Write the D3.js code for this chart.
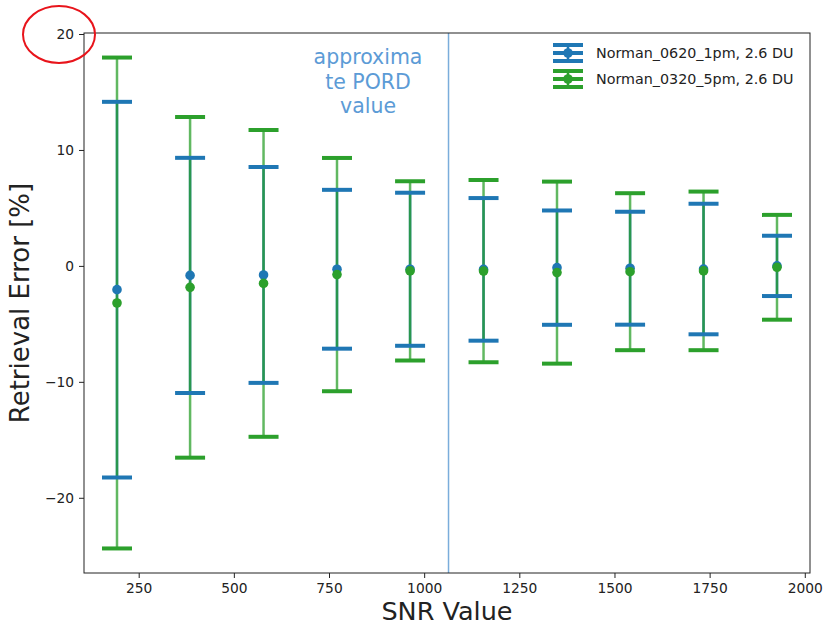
<!DOCTYPE html>
<html>
<head>
<meta charset="utf-8">
<script src="https://cdn.jsdelivr.net/npm/d3@7"></script>
<style>
  body { margin: 0; background: #fff; }
  svg { display: block; font-family: "DejaVu Sans", sans-serif; }
</style>
</head>
<body>
<div id="root"></div>
<script>
// values
const snrValues = [193, 385, 578, 771, 963, 1156, 1349, 1541, 1734, 1927];
const norman0620Mean = [-2.05, -0.82, -0.78, -0.29, -0.29, -0.3, -0.15, -0.2, -0.27, 0.0];
const norman0620Err = [16.2, 10.14, 9.31, 6.85, 6.6, 6.15, 4.93, 4.87, 5.63, 2.6];
const norman0320Mean = [-3.2, -1.85, -1.51, -0.75, -0.43, -0.45, -0.58, -0.5, -0.43, -0.12];
const norman0320Err = [21.17, 14.69, 13.23, 10.06, 7.73, 7.86, 7.85, 6.77, 6.84, 4.52];
const seriesNames = ['Norman_0620_1pm, 2.6 DU', 'Norman_0320_5pm, 2.6 DU'];
const xTicks = [250, 500, 750, 1000, 1250, 1500, 1750, 2000];
const yTicks = [-20, -10, 0, 10, 20];
const pordValue = 1064;
const pordLabel = ['approxima', 'te PORD', 'value'];

const width = 825;
const height = 626;
const plot = { left: 84, right: 810, top: 33, bottom: 573 };

const blue = '#1f77b4';
const green = '#2ca02c';

const series = [
  { name: seriesNames[0], color: blue, mean: norman0620Mean, err: norman0620Err, lineOpacity: 1 },
  { name: seriesNames[1], color: green, mean: norman0320Mean, err: norman0320Err, lineOpacity: 0.75 },
];

// matplotlib style 5% margins
const padded = (lo, hi) => {
  const m = (hi - lo) * 0.05;
  return [lo - m, hi + m];
};

const allLow = series.flatMap(s => s.mean.map((d, i) => d - s.err[i]));
const allHigh = series.flatMap(s => s.mean.map((d, i) => d + s.err[i]));

const xScale = d3.scaleLinear()
  .domain(padded(d3.min(snrValues), d3.max(snrValues)))
  .range([plot.left, plot.right]);

const yScale = d3.scaleLinear()
  .domain(padded(d3.min(allLow), d3.max(allHigh)))
  .range([plot.bottom, plot.top]);

const svg = d3.select('#root').append('svg')
  .attr('width', width)
  .attr('height', height);

// PORD line
svg.append('line')
  .attr('x1', xScale(pordValue)).attr('x2', xScale(pordValue))
  .attr('y1', plot.top).attr('y2', plot.bottom)
  .attr('stroke', '#7aaddb')
  .attr('stroke-width', 1.5);

svg.append('text')
  .attr('x', 368)
  .attr('y', 64)
  .attr('text-anchor', 'middle')
  .attr('fill', '#5c9bd6')
  .attr('font-size', '20.5px')
  .selectAll('tspan')
  .data(pordLabel)
  .enter()
  .append('tspan')
  .attr('x', 368)
  .attr('dy', (d, i) => i === 0 ? 0 : 24.5)
  .text(d => d);

const capHalf = 15;

// error lines first, then caps, then markers
series.forEach(s => {
  svg.append('g').selectAll('line')
    .data(snrValues)
    .enter()
    .append('line')
    .attr('x1', d => xScale(d)).attr('x2', d => xScale(d))
    .attr('y1', (d, i) => yScale(s.mean[i] + s.err[i]))
    .attr('y2', (d, i) => yScale(s.mean[i] - s.err[i]))
    .attr('stroke', s.color)
    .attr('stroke-opacity', s.lineOpacity)
    .attr('stroke-width', 2.5);
});

series.forEach(s => {
  const caps = svg.append('g');
  [1, -1].forEach(sign => {
    caps.selectAll(null)
      .data(snrValues)
      .enter()
      .append('line')
      .attr('x1', d => xScale(d) - capHalf).attr('x2', d => xScale(d) + capHalf)
      .attr('y1', (d, i) => yScale(s.mean[i] + sign * s.err[i]))
      .attr('y2', (d, i) => yScale(s.mean[i] + sign * s.err[i]))
      .attr('stroke', s.color)
      .attr('stroke-width', 4);
  });
});

series.forEach(s => {
  svg.append('g').selectAll('circle')
    .data(snrValues)
    .enter()
    .append('circle')
    .attr('cx', d => xScale(d))
    .attr('cy', (d, i) => yScale(s.mean[i]))
    .attr('r', 4.8)
    .attr('fill', s.color);
});

// axes
const xAxis = svg.append('g')
  .attr('transform', `translate(0, ${plot.bottom})`)
  .call(d3.axisBottom(xScale).tickValues(xTicks).tickSizeOuter(0).tickSizeInner(5).tickPadding(5)
    .tickFormat(d3.format('d')));

const yAxis = svg.append('g')
  .attr('transform', `translate(${plot.left}, 0)`)
  .call(d3.axisLeft(yScale).tickValues(yTicks).tickSizeOuter(0).tickSizeInner(5).tickPadding(5)
    .tickFormat(d => d < 0 ? '\u2212' + Math.abs(d) : d));

[xAxis, yAxis].forEach(a => {
  a.select('.domain').remove();
  a.selectAll('.tick line').attr('stroke', '#222');
  a.selectAll('.tick text')
    .attr('fill', '#222')
    .attr('font-size', '13.8px')
    .attr('font-family', '"DejaVu Sans", sans-serif');
});

svg.append('rect')
  .attr('x', plot.left).attr('y', plot.top)
  .attr('width', plot.right - plot.left)
  .attr('height', plot.bottom - plot.top)
  .attr('fill', 'none')
  .attr('stroke', '#222')
  .attr('stroke-width', 1);

svg.append('text')
  .attr('x', (plot.left + plot.right) / 2)
  .attr('y', 620)
  .attr('text-anchor', 'middle')
  .attr('font-size', '25.5px')
  .attr('fill', '#222')
  .text('SNR Value');

svg.append('text')
  .attr('transform', `translate(29, ${(plot.top + plot.bottom) / 2}) rotate(-90)`)
  .attr('text-anchor', 'middle')
  .attr('font-size', '26px')
  .attr('fill', '#222')
  .text('Retrieval Error [%]');

// legend
const legend = svg.append('g')
  .selectAll('g')
  .data(series)
  .enter()
  .append('g')
  .attr('transform', (d, i) => `translate(568, ${53 + i * 26})`);

legend.append('line')
  .attr('x1', 0).attr('x2', 0).attr('y1', -8).attr('y2', 8)
  .attr('stroke', d => d.color).attr('stroke-width', 2.5);

[-8, 0, 8].forEach(dy => {
  legend.append('line')
    .attr('x1', -capHalf).attr('x2', capHalf)
    .attr('y1', dy).attr('y2', dy)
    .attr('stroke', d => d.color).attr('stroke-width', 4);
});

legend.append('circle')
  .attr('r', 4.8)
  .attr('fill', d => d.color);

legend.append('text')
  .attr('x', 28)
  .attr('y', 5)
  .attr('font-size', '14.3px')
  .attr('fill', '#222')
  .text(d => d.name);

// red circle drawn around the 20 label
svg.append('ellipse')
  .attr('cx', 59).attr('cy', 34.5)
  .attr('rx', 36).attr('ry', 28.5)
  .attr('fill', 'none')
  .attr('stroke', '#e8141b')
  .attr('stroke-width', 2);
</script>
</body>
</html>
